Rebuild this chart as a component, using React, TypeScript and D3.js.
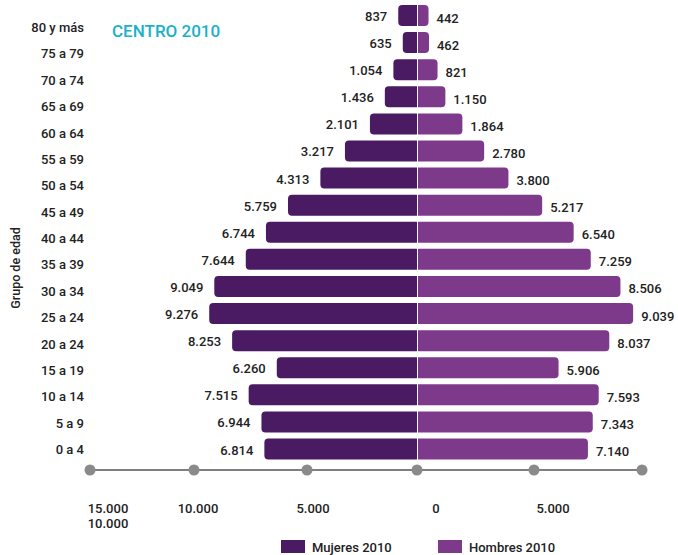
import React from "react";
import * as d3 from "d3";

const categories = ["80 y más","75 a 79","70 a 74","65 a 69","60 a 64","55 a 59","50 a 54","45 a 49","40 a 44","35 a 39","30 a 34","25 a 24","20 a 24","15 a 19","10 a 14","5 a 9","0 a 4"];
const mujeres = [837,635,1054,1436,2101,3217,4313,5759,6744,7644,9049,9276,8253,6260,7515,6944,6814];
const hombres = [442,462,821,1150,1864,2780,3800,5217,6540,7259,8506,9039,8037,5906,7593,7343,7140];
const axisValues = [-15000,-10000,-5000,0,5000,10000];
const axisLabels = [["15.000","10.000"],["10.000"],["5.000"],["0"],["5.000"]];
const axisLabelValues = [-15000,-10000,-5000,0,5000];
const seriesNames = ["Mujeres 2010","Hombres 2010"];
const title = "CENTRO 2010";
const yTitle = "Grupo de edad";

const C_M = "#4a1a62";
const C_H = "#7e3a8a";
const FONT = "Roboto, 'Noto Sans', sans-serif";

const fmt = (v: number) => d3.format(",")(v).replace(/,/g, ".");

function leftBar(x0: number, x1: number, y: number, h: number, r: number) {
  // rounded on left (x0) side
  return `M${x1},${y}H${x0 + r}Q${x0},${y} ${x0},${y + r}V${y + h - r}Q${x0},${y + h} ${x0 + r},${y + h}H${x1}Z`;
}
function rightBar(x0: number, x1: number, y: number, h: number, r: number) {
  return `M${x0},${y}H${x1 - r}Q${x1},${y} ${x1},${y + r}V${y + h - r}Q${x1},${y + h} ${x1 - r},${y + h}H${x0}Z`;
}

export default function App() {
  const W = 678, H = 555;
  const cx = 417;
  const xLeft = d3.scaleLinear().domain([0, 10000]).range([cx, cx - 224]);
  const xRight = d3.scaleLinear().domain([0, 10000]).range([cx + 1, cx + 1 + 238]);
  const yBar = d3.scalePoint<string>().domain(categories).range([15.5, 449]);
  const yLab = d3.scalePoint<string>().domain(categories).range([27.5, 449.5]);
  const xAxis = d3.scaleLinear().domain(axisValues).range([90, 194, 307, 417, 534, 642]);
  const xAxisLab = d3.scaleLinear().domain(axisLabelValues).range([108, 198, 313, 436, 553]);
  const bh = 21;
  const r = 4;

  return (
    <svg width={W} height={H} style={{ position: "absolute", left: 0, top: 0, background: "#fff" }} fontFamily={FONT}>
      <text x={112} y={31} fontSize={17} fontWeight={500} fill="#1ab1c9" dominantBaseline="central">{title}</text>
      <text transform={`translate(15,268) rotate(-90)`} textAnchor="middle" dominantBaseline="central" fontSize={12.5} fontWeight={500} fill="#222">{yTitle}</text>
      {categories.map((c, i) => {
        const yc = yBar(c)!;
        const xl = xLeft(mujeres[i]);
        const xr = xRight(hombres[i]);
        return (
          <g key={c}>
            <text x={84} y={yLab(c)} textAnchor="end" dominantBaseline="central" fontSize={13} fontWeight={500} fill="#222">{c}</text>
            <path d={leftBar(xl, cx, yc - bh / 2, bh, r)} fill={C_M} />
            <path d={rightBar(xRight(0), xr, yc - bh / 2, bh, r)} fill={C_H} />
            <text x={xl - 11} y={yc + 1} textAnchor="end" dominantBaseline="central" fontSize={13} fontWeight={500} fill="#222">{fmt(mujeres[i])}</text>
            <text x={xr + 8} y={yc + 2.5} textAnchor="start" dominantBaseline="central" fontSize={13} fontWeight={500} fill="#222">{fmt(hombres[i])}</text>
          </g>
        );
      })}
      <line x1={xAxis(axisValues[0])} x2={xAxis(axisValues[axisValues.length - 1])} y1={470} y2={470} stroke="#555" strokeWidth={1.5} />
      {axisValues.map((v) => (
        <circle key={v} cx={xAxis(v)} cy={470} r={5.5} fill="#8a8a8a" />
      ))}
      {axisLabelValues.map((v, i) => (
        <text key={v} x={xAxisLab(v)} y={508} textAnchor="middle" fontSize={13} fontWeight={500} fill="#222">
          {axisLabels[i].map((t, j) => (
            <tspan key={j} x={xAxisLab(v)} dy={j === 0 ? 0 : 15} dominantBaseline="central">{t}</tspan>
          ))}
        </text>
      ))}
      <rect x={281} y={540} width={24} height={13} fill={C_M} />
      <text x={312} y={547} fontSize={13} fontWeight={500} fill="#222" dominantBaseline="central">{seriesNames[0]}</text>
      <rect x={438} y={540} width={24} height={13} fill={C_H} />
      <text x={469} y={547} fontSize={13} fontWeight={500} fill="#222" dominantBaseline="central">{seriesNames[1]}</text>
    </svg>
  );
}
